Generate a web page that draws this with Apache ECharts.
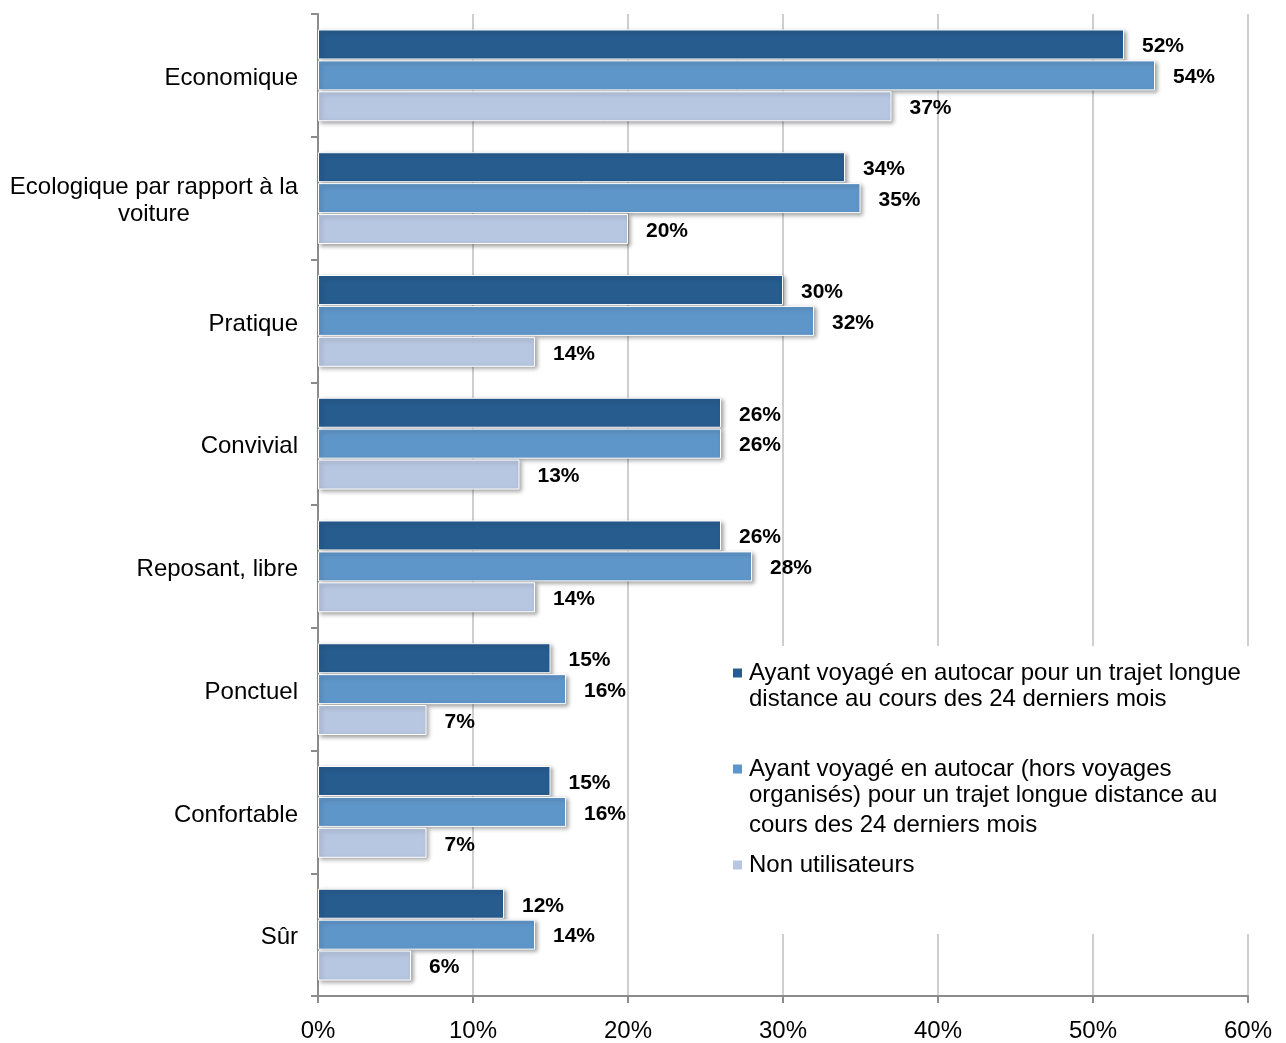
<!DOCTYPE html>
<html>
<head>
<meta charset="utf-8">
<script src="https://cdn.jsdelivr.net/npm/echarts@6/dist/echarts.min.js"></script>
<style>
  html, body { margin: 0; padding: 0; background: #fff; }
  #chart { width: 1286px; height: 1043px; }
</style>
</head>
<body>
<div id="chart"></div>
<script>
// Attributes associated with long-distance coach travel (share of respondents, %)
const categories = [
  'Economique',
  'Ecologique par rapport à la\nvoiture',
  'Pratique',
  'Convivial',
  'Reposant, libre',
  'Ponctuel',
  'Confortable',
  'Sûr'
];

const seriesNames = [
  'Ayant voyagé en autocar pour un trajet longue distance au cours des 24 derniers mois',
  'Ayant voyagé en autocar (hors voyages organisés) pour un trajet longue distance au cours des 24 derniers mois',
  'Non utilisateurs'
];

// Line breaks used for each legend entry
const legendLines = [
  ['Ayant voyagé en autocar pour un trajet longue', 'distance au cours des 24 derniers mois'],
  ['Ayant voyagé en autocar (hors voyages', 'organisés) pour un trajet longue distance au', 'cours des 24 derniers mois'],
  ['Non utilisateurs']
];

const coachUsers24m = [52, 34, 30, 26, 26, 15, 15, 12];
const coachUsersExclOrganised = [54, 35, 32, 26, 28, 16, 16, 14];
const nonUsers = [37, 20, 14, 13, 14, 7, 7, 6];

const xMin = 0;
const xMax = 60;
const xStep = 10;

const colors = ['#275C8F', '#5F96C9', '#B8C7E1'];
const FONT = '"Liberation Sans", Arial, Helvetica, sans-serif';
const seriesData = [coachUsers24m, coachUsersExclOrganised, nonUsers];

// Legend entry: coloured square on the first line, wrapped text indented below it
function legendFormatter(name) {
  const idx = seriesNames.indexOf(name);
  const lines = legendLines[idx];
  let s = '{sq' + idx + '|}{sp|}{t|' + lines[0] + '}';
  for (let i = 1; i < lines.length; i++) {
    s += '\n{ind|}{' + (i === 2 ? 't34' : 't') + '|' + lines[i] + '}';
  }
  // spacer so the first entry is as tall as the second
  if (idx === 0) s += '\n{blank|}';
  return s;
}

const textBase = { fontFamily: FONT, fontSize: 24, color: '#000', lineHeight: 26 };
const legendRich = {
  sp: { width: 7, height: 9, lineHeight: 26 },
  ind: { width: 16, height: 9, lineHeight: 26 },
  t: Object.assign({}, textBase),
  t34: Object.assign({}, textBase, { lineHeight: 34 }),
  blank: { width: 1, height: 34, lineHeight: 34 }
};
colors.forEach((c, i) => {
  legendRich['sq' + i] = { width: 9, height: 9, lineHeight: 26, backgroundColor: c };
});

const axisGrey = '#8C8C8C';

const option = {
  backgroundColor: '#ffffff',
  animation: false,
  grid: { left: 318, right: 38, top: 14, bottom: 46 },
  xAxis: {
    type: 'value',
    min: xMin,
    max: xMax,
    interval: xStep,
    axisLine: { show: true, lineStyle: { color: axisGrey, width: 2 } },
    axisTick: { show: true, length: 7, lineStyle: { color: axisGrey, width: 2 } },
    splitLine: { show: true, lineStyle: { color: '#CFCFCF', width: 2 } },
    axisLabel: {
      margin: 23,
      fontFamily: FONT,
      fontSize: 24,
      color: '#000',
      formatter: (v) => v + '%'
    }
  },
  yAxis: {
    type: 'category',
    inverse: true,
    data: categories,
    axisLine: { show: true, lineStyle: { color: axisGrey, width: 2 } },
    axisTick: { show: true, length: 7, lineStyle: { color: axisGrey, width: 2 } },
    axisLabel: {
      margin: 20,
      padding: [6, 0, 0, 0],
      formatter: (v) => v.split('\n').map((l) => '{c|' + l + '}').join('\n'),
      rich: {
        c: { align: 'center', fontFamily: FONT, fontSize: 24, color: '#000', lineHeight: 27 }
      }
    }
  },
  legend: {
    orient: 'vertical',
    left: 714,
    top: 646,
    padding: [14, 22, 56, 13],
    backgroundColor: '#ffffff',
    itemWidth: 0,
    itemHeight: 0,
    itemGap: 10,
    selectedMode: false,
    data: seriesNames.slice(),
    formatter: legendFormatter,
    textStyle: Object.assign({}, textBase, { rich: legendRich })
  },
  series: seriesNames.map((name, i) => ({
    name: name,
    type: 'bar',
    data: seriesData[i],
    barWidth: 30,
    barGap: '3%',
    itemStyle: {
      color: colors[i],
      borderColor: '#ffffff',
      borderWidth: 1,
      shadowColor: 'rgba(0,0,0,0.35)',
      shadowBlur: 4,
      shadowOffsetX: 2,
      shadowOffsetY: 2
    },
    label: {
      show: true,
      position: 'right',
      distance: 18,
      offset: [0, 2],
      fontFamily: FONT,
      fontSize: 21,
      fontWeight: 'bold',
      color: '#000',
      formatter: (p) => p.value + '%'
    }
  }))
};

const chart = echarts.init(document.getElementById('chart'));
chart.setOption(option);
</script>
</body>
</html>
